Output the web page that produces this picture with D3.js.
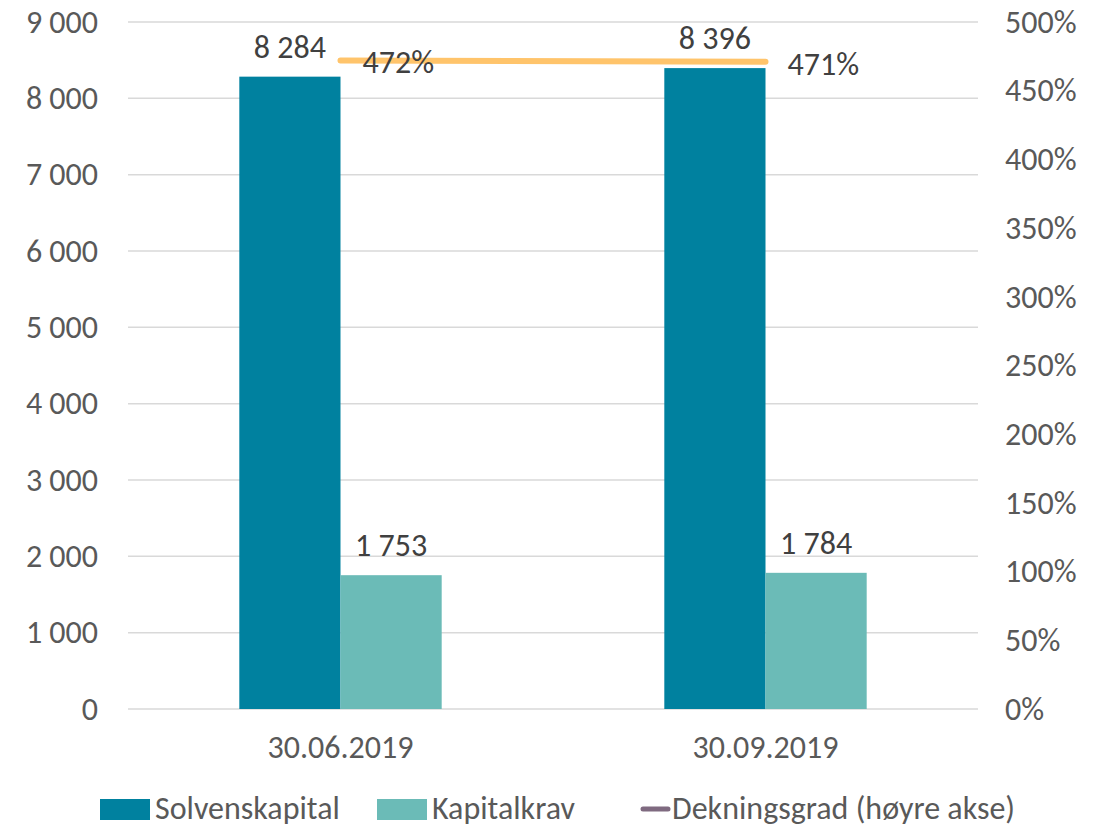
<!DOCTYPE html>
<html>
<head>
<meta charset="utf-8">
<script src="https://cdn.jsdelivr.net/npm/d3@7"></script>
<style>
  body { margin: 0; background: #fff; }
  text { font-family: Carlito, Calibri, Lato, "Open Sans", sans-serif; }
</style>
</head>
<body>
<div id="chart"></div>
<script>
// data
var categories = ["30.06.2019", "30.09.2019"];
var solvenskapital = [8284, 8396];
var kapitalkrav = [1753, 1784];
var dekningsgrad = [472, 471];
var leftTicks = [0, 1000, 2000, 3000, 4000, 5000, 6000, 7000, 8000, 9000];
var rightTicks = [0, 50, 100, 150, 200, 250, 300, 350, 400, 450, 500];

var W = 1104, H = 829;
var margin = {top: 22, right: 126, bottom: 120, left: 128},
    width = W - margin.left - margin.right,
    height = H - margin.top - margin.bottom;

var fs = "32px";
var fmt = function (v) { return d3.format(",")(v).replace(/,/g, " "); };

var svg = d3.select("#chart")
  .append("svg")
    .attr("width", W)
    .attr("height", H)
  .append("g")
    .attr("transform", "translate(" + margin.left + "," + margin.top + ")");

var x = d3.scaleBand()
  .domain(categories)
  .range([0, width]);

var xInner = d3.scaleBand()
  .domain(["s", "k"])
  .range([0, x.bandwidth()])
  .paddingInner(0)
  .paddingOuter(1.1);

var y = d3.scaleLinear().domain([0, 9000]).range([height, 0]);
var y2 = d3.scaleLinear().domain([0, 500]).range([height, 0]);

// gridlines
svg.append("g")
  .selectAll("line")
  .data(leftTicks)
  .enter()
  .append("line")
    .attr("x1", 0)
    .attr("x2", width)
    .attr("y1", function (d) { return y(d); })
    .attr("y2", function (d) { return y(d); })
    .attr("stroke", "#d9d9d9")
    .attr("stroke-width", 1.5);

// left axis labels
var yAxis = svg.append("g")
  .call(d3.axisLeft(y).tickValues(leftTicks).tickFormat(fmt).tickSize(0).tickPadding(30));
yAxis.selectAll("text").attr("font-size", fs).attr("fill", "#595959");

// right axis labels
var yAxis2 = svg.append("g")
  .attr("transform", "translate(" + width + ",0)")
  .call(d3.axisRight(y2).tickValues(rightTicks).tickFormat(function (d) { return d + "%"; }).tickSize(0).tickPadding(27));
yAxis2.selectAll("text").attr("font-size", fs).attr("fill", "#595959");

// x axis labels
var xAxis = svg.append("g")
  .attr("transform", "translate(0," + height + ")")
  .call(d3.axisBottom(x).tickSize(0).tickPadding(26));
xAxis.selectAll("text").attr("font-size", fs).attr("fill", "#595959");

svg.selectAll(".domain").remove();
d3.selectAll("g[font-family]").attr("font-family", null);

// bars
var groups = svg.append("g")
  .selectAll("g")
  .data(categories)
  .enter()
  .append("g")
    .attr("transform", function (d) { return "translate(" + x(d) + ",0)"; });

groups.append("rect")
  .attr("x", xInner("s"))
  .attr("width", xInner.bandwidth())
  .attr("y", function (d, i) { return y(solvenskapital[i]); })
  .attr("height", function (d, i) { return height - y(solvenskapital[i]); })
  .attr("fill", "#00819f");

groups.append("rect")
  .attr("x", xInner("k"))
  .attr("width", xInner.bandwidth())
  .attr("y", function (d, i) { return y(kapitalkrav[i]); })
  .attr("height", function (d, i) { return height - y(kapitalkrav[i]); })
  .attr("fill", "#6bbbb7");

// bar labels
groups.append("text")
  .attr("x", xInner("s") + xInner.bandwidth() / 2)
  .attr("y", function (d, i) { return y(solvenskapital[i]) - 19; })
  .attr("text-anchor", "middle")
  .attr("font-size", fs)
  .attr("fill", "#404040")
  .text(function (d, i) { return fmt(solvenskapital[i]); });

groups.append("text")
  .attr("x", xInner("k") + xInner.bandwidth() / 2)
  .attr("y", function (d, i) { return y(kapitalkrav[i]) - 19; })
  .attr("text-anchor", "middle")
  .attr("font-size", fs)
  .attr("fill", "#404040")
  .text(function (d, i) { return fmt(kapitalkrav[i]); });

// coverage line on the right axis
var line = d3.line()
  .x(function (d, i) { return x(categories[i]) + x.bandwidth() / 2; })
  .y(function (d) { return y2(d); });

svg.append("path")
  .datum(dekningsgrad)
  .attr("d", line)
  .attr("fill", "none")
  .attr("stroke", "#ffc46b")
  .attr("stroke-width", 6)
  .attr("stroke-linecap", "round");

svg.append("g")
  .selectAll("text")
  .data(dekningsgrad)
  .enter()
  .append("text")
    .attr("x", function (d, i) { return x(categories[i]) + x.bandwidth() / 2 + 22; })
    .attr("y", function (d) { return y2(d) + 13; })
    .attr("font-size", fs)
    .attr("fill", "#404040")
    .text(function (d) { return d + "%"; });

// legend
var legend = d3.select("svg").append("g");
var items = [
  {name: "Solvenskapital", color: "#00819f", x: 100, type: "rect"},
  {name: "Kapitalkrav", color: "#6bbbb7", x: 377, type: "rect"},
  {name: "Dekningsgrad (høyre akse)", color: "#7f6a80", x: 640, type: "line"}
];
items.forEach(function (it) {
  if (it.type === "rect") {
    legend.append("rect")
      .attr("x", it.x).attr("y", 799)
      .attr("width", 50).attr("height", 21)
      .attr("fill", it.color);
  } else {
    legend.append("line")
      .attr("x1", it.x + 3).attr("x2", it.x + 28)
      .attr("y1", 809).attr("y2", 809)
      .attr("stroke", it.color)
      .attr("stroke-width", 5)
      .attr("stroke-linecap", "round");
  }
  legend.append("text")
    .attr("x", it.type === "rect" ? it.x + 55 : it.x + 32)
    .attr("y", 819)
    .attr("font-size", fs)
    .attr("fill", "#595959")
    .text(it.name);
});
</script>
</body>
</html>
